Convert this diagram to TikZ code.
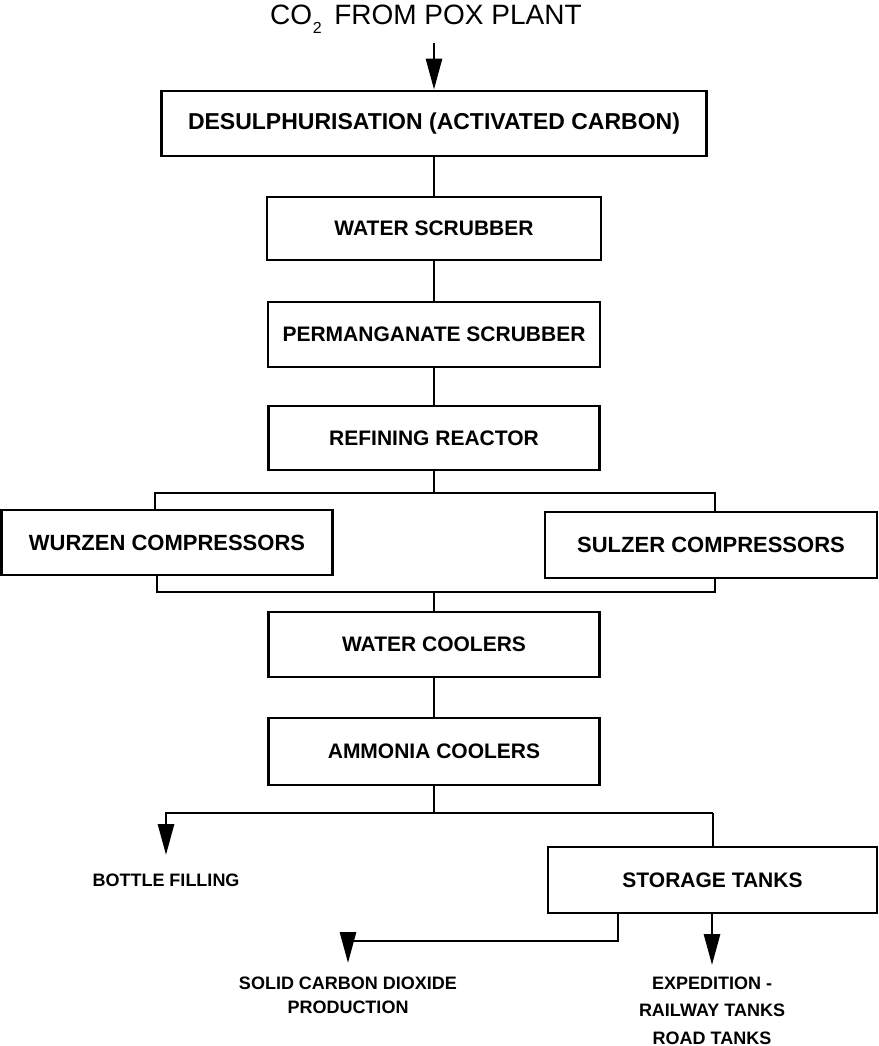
\documentclass[tikz,border=0pt]{standalone}
\usepackage{fontspec}
\setmainfont{Liberation Sans}
\usetikzlibrary{arrows.meta}
\begin{document}
\begin{tikzpicture}[x=1pt,y=-1pt,
  stagebox/.style={draw, line width=2.8pt, inner sep=0pt, minimum height=64pt,
    font=\bfseries\fontsize{21}{25}\selectfont},
  outlet/.style={inner xsep=0pt, align=center, anchor=north},
  flow/.style={line width=2.8pt},
  feed/.style={flow, -{Triangle[length=31pt,width=16pt]}},
]
\useasboundingbox (0,0) rectangle (878,1046);

% feed gas heading
\node[anchor=base west, inner xsep=0pt, inner ysep=9.6pt,
      font=\fontsize{28}{32}\selectfont] (title) at (270,25)
  {CO\kern0.02em\raisebox{-0.3em}{\fontsize{16}{16}\selectfont 2}\hspace{0.45em}FROM POX PLANT};

% purification train
\node[stagebox, minimum width=545pt, minimum height=65pt,
      font=\bfseries\fontsize{23}{27}\selectfont] (desulph) at (434,123.5)
  {DESULPHURISATION (ACTIVATED CARBON)};
\node[stagebox, minimum width=334pt, minimum height=63pt] (wscrub) at (434,228.5) {WATER SCRUBBER};
\node[stagebox, minimum width=332pt, minimum height=65pt] (perm) at (434,334.5) {PERMANGANATE SCRUBBER};
\node[stagebox, minimum width=331pt] (refine) at (434,438) {REFINING REACTOR};

% parallel compression
\node[stagebox, minimum width=331pt, minimum height=65pt,
      font=\bfseries\fontsize{22}{26}\selectfont] (wurzen) at (167,542.5) {WURZEN COMPRESSORS};
\node[stagebox, minimum width=332pt, minimum height=66pt,
      font=\bfseries\fontsize{22}{26}\selectfont] (sulzer) at (711,545) {SULZER COMPRESSORS};

% cooling and storage
\node[stagebox, minimum width=331pt, minimum height=65pt] (wcool) at (434,644.5) {WATER COOLERS};
\node[stagebox, minimum width=331pt, minimum height=67pt] (ammonia) at (434,751.5) {AMMONIA COOLERS};
\node[stagebox, minimum width=329pt, minimum height=66pt] (storage) at (712.5,880) {STORAGE TANKS};

% product outlets
\node[outlet, inner ysep=19pt, font=\bfseries\fontsize{18}{24}\selectfont] (bottle) at (166,855) {BOTTLE FILLING};
\node[outlet, inner ysep=13.5pt, font=\bfseries\fontsize{18}{24}\selectfont] (solid) at (348,963)
  {SOLID CARBON DIOXIDE\\PRODUCTION};
\node[outlet, inner ysep=11.5pt, font=\bfseries\fontsize{18}{27.5}\selectfont] (expedition) at (712,965)
  {EXPEDITION -\\RAILWAY TANKS\\ROAD TANKS};

% junction points
\coordinate (splitL) at (155,493);
\coordinate (splitR) at (715,493);
\coordinate (mergeL) at (157,592);
\coordinate (mergeR) at (715,592);
\coordinate (forkL) at (166,813);
\coordinate (forkR) at (713,813);
\coordinate (solidturn) at (618,941);

% connectors
\draw[feed] (desulph.north |- title.south) -- (desulph.north);
\draw[flow] (desulph.south) -- (wscrub.north);
\draw[flow] (wscrub.south) -- (perm.north);
\draw[flow] (perm.south) -- (refine.north);
\draw[flow] (refine.south) -- (refine.south |- splitL);
\draw[flow] (wurzen.north -| splitL) -- (splitL) -- (splitR) -- (sulzer.north -| splitR);
\draw[flow] (wurzen.south -| mergeL) -- (mergeL) -- (mergeR) -- (sulzer.south -| mergeR);
\draw[flow] (wcool.north |- mergeL) -- (wcool.north);
\draw[flow] (wcool.south) -- (ammonia.north);
\draw[flow] (ammonia.south) -- (ammonia.south |- forkL);
\draw[feed] (forkR) -- (forkL) -- (bottle.north);
\draw[flow] (forkR) -- (storage.north -| forkR);
\draw[feed] (storage.south -| solidturn) -- (solidturn) -- (solid.north |- solidturn) -- (solid.north);
\draw[feed] (expedition.north |- storage.south) -- (expedition.north);
\end{tikzpicture}
\end{document}
